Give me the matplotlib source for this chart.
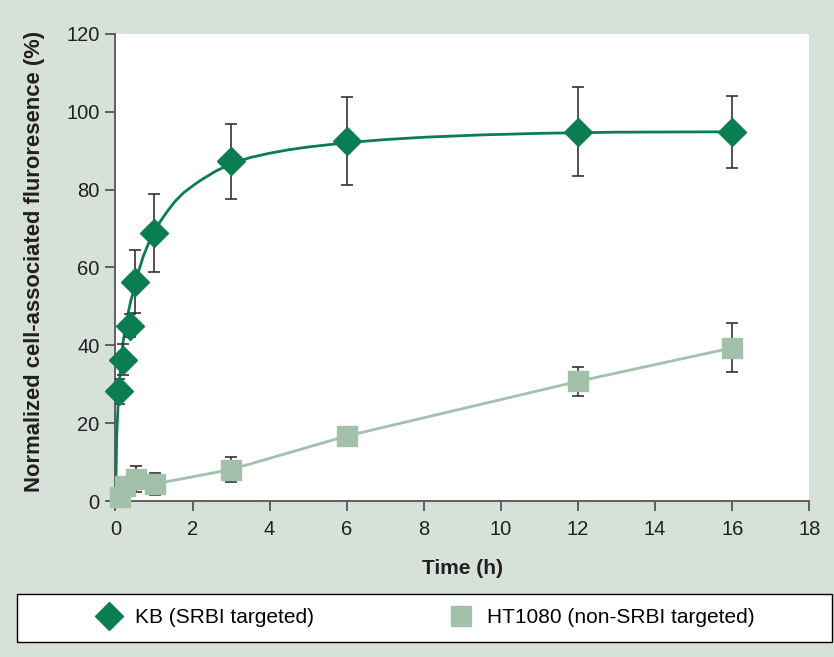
import matplotlib
matplotlib.use("Agg")
import matplotlib.pyplot as plt
from matplotlib.patches import Rectangle

plt.rcParams['font.family'] = ['Liberation Sans', 'DejaVu Sans']

# KB (SRBI targeted) - mean and error
kb_t = [0.083, 0.19, 0.37, 0.5, 1.0, 3.0, 6.0, 12.0, 16.0]
kb_y = [28.3, 36.4, 45.1, 56.4, 68.8, 87.2, 92.4, 94.8, 94.8]
kb_err = [3.2, 3.9, 3.0, 8.0, 10.0, 9.7, 11.3, 11.4, 9.3]

# fitted curve for KB
fit_t = [0, 0.015, 0.035, 0.06, 0.08, 0.13, 0.2, 0.3, 0.4, 0.5, 0.6, 0.72, 0.85,
         1.0, 1.15, 1.33, 1.55, 1.76, 2.0, 2.2, 2.6, 3.0, 3.5, 4.0, 4.5, 5.0,
         6.0, 7.0, 8.0, 9.5, 11.0, 13.0, 16.0]
fit_y = [0, 7, 17, 23, 27, 34, 41, 47, 51.5, 55, 59, 62.8, 66,
         69, 71.6, 74.2, 77, 79.1, 80.9, 82.3, 84.7, 86.6, 88.2, 89.3, 90.2, 90.9,
         92.0, 92.8, 93.4, 94.0, 94.4, 94.7, 94.8]

# HT1080 (non-SRBI targeted)
ht_t = [0.11, 0.25, 0.53, 1.02, 3.0, 6.0, 12.0, 16.0]
ht_y = [1.1, 3.9, 5.8, 4.5, 8.2, 16.8, 30.8, 39.4]
ht_err = [0.5, 0.8, 3.3, 2.8, 3.1, 1.5, 3.7, 6.3]

kb_color = '#0a7d52'
ht_color = '#a3c0aa'
bg = '#d6e1d9'
axis_col = '#555555'

fig = plt.figure(figsize=(8.34, 6.57), dpi=100, facecolor=bg)
ax = fig.add_axes([0.1384, 0.2367, 0.8320, 0.7123])
ax.set_facecolor('white')

ax.plot(fit_t, fit_y, color=kb_color, lw=2.0, zorder=2, clip_on=False)
ax.errorbar(kb_t, kb_y, yerr=kb_err, fmt='none', ecolor='#333333',
            elinewidth=1.2, capsize=4, capthick=1.2, zorder=3)
ax.plot(kb_t, kb_y, ls='none', marker='D', ms=14, color=kb_color,
        mec=kb_color, zorder=4, clip_on=False, label='KB (SRBI targeted)')

ax.plot(ht_t, ht_y, color=ht_color, lw=2.0, zorder=5, clip_on=False)
ax.errorbar(ht_t, ht_y, yerr=ht_err, fmt='none', ecolor='#333333',
            elinewidth=1.2, capsize=4, capthick=1.2, zorder=5)
ax.plot(ht_t, ht_y, ls='none', marker='s', ms=15, color=ht_color,
        mec=ht_color, zorder=6, clip_on=False, label='HT1080 (non-SRBI targeted)')

ax.set_xlim(0, 18)
ax.set_ylim(0, 120)
ax.set_xticks(range(0, 19, 2))
ax.set_yticks(range(0, 121, 20))
for s in ['top', 'right']:
    ax.spines[s].set_visible(False)
for s in ['left', 'bottom']:
    ax.spines[s].set_color(axis_col)
    ax.spines[s].set_linewidth(1.3)
ax.tick_params(direction='out', length=7.5, width=1.3, color=axis_col,
               labelsize=14.5, labelcolor='#231f20')
ax.tick_params(axis='x', pad=6)
ax.tick_params(axis='y', pad=4)

ax.set_xlabel('Time (h)', fontsize=15, fontweight='bold', color='#231f20', labelpad=14)
ax.set_ylabel('Normalized cell-associated fluroresence (%)', fontsize=15.8,
              fontweight='bold', color='#231f20', va='center')
ax.yaxis.set_label_coords(-0.116, 0.514)

# legend box
fig.patches.append(Rectangle((0.0204, 0.0228), 0.977, 0.0731, transform=fig.transFigure,
                             facecolor='white', edgecolor='black', lw=1.0, zorder=0))
handles, labels = ax.get_legend_handles_labels()
fig.legend(handles, labels, loc='center', bbox_to_anchor=(0.510, 0.0594), ncol=2,
           frameon=False, fontsize=15, handlelength=1.2, handletextpad=0.65,
           columnspacing=6.47, numpoints=1)

fig.savefig('out.png', dpi=100, facecolor=bg)
